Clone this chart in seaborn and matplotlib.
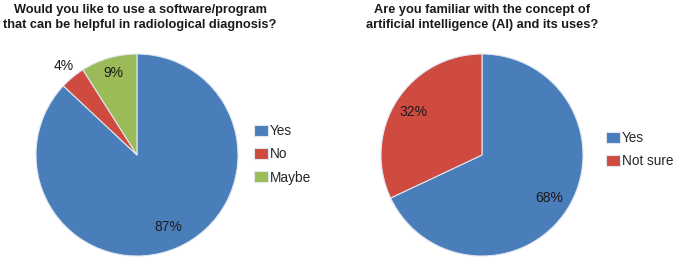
import numpy as np
import matplotlib
matplotlib.use("Agg")
import matplotlib.pyplot as plt
import seaborn as sns

# data
q1_title = "Would you like to use a software/program\nthat can be helpful in radiological diagnosis?"
q1_labels = ["Yes", "No", "Maybe"]
q1_values = [87, 4, 9]
q1_label_dist = [0.78, 1.14, 0.85]

q2_title = "Are you familiar with the concept of\nartificial intelligence (AI) and its uses?"
q2_labels = ["Yes", "Not sure"]
q2_values = [68, 32]
q2_label_dist = [0.79, 0.80]

sns.set_theme(style="white")
plt.rcParams["font.family"] = ["Liberation Sans", "DejaVu Sans"]

colors = sns.color_palette(["#4a7ebb", "#cf4a3f", "#9bbb59"])

W, H = 679, 264
fig = plt.figure(figsize=(W / 100, H / 100), dpi=100)


def draw_pie(cx, cy, r, values, labels, dists, title, title_x, leg_x, leg_y):
    ax = fig.add_axes([(cx - r) / W, (H - cy - r) / H, 2 * r / W, 2 * r / H])
    wedges, _, autotexts = ax.pie(
        values, colors=colors[:len(values)], startangle=90, counterclock=False,
        autopct="%d%%", radius=1.0,
        wedgeprops=dict(edgecolor="#dfe6ef", linewidth=0.8),
        textprops=dict(fontsize=10, color="#1a1a1a"),
    )
    ax.set_xlim(-1, 1)
    ax.set_ylim(-1, 1)
    # move each label along its wedge's mid angle
    for w, t, d in zip(wedges, autotexts, dists):
        ang = np.deg2rad((w.theta1 + w.theta2) / 2)
        t.set_position((d * np.cos(ang), d * np.sin(ang)))
    fig.text(title_x / W, 1 - 17.5 / H, title, ha="center", va="center",
             fontsize=9.2, fontweight="bold", color="#1a1a1a", linespacing=1.3)
    fig.legend(wedges, labels, loc="upper left",
               bbox_to_anchor=(leg_x / W, 1 - leg_y / H), frameon=False,
               fontsize=9.8, handlelength=1.0, handleheight=0.85,
               handletextpad=0.15, labelspacing=0.68, borderpad=0, borderaxespad=0)


draw_pie(137, 155, 101, q1_values, q1_labels, q1_label_dist, q1_title, 140, 254, 124)
draw_pie(482, 155, 101, q2_values, q2_labels, q2_label_dist, q2_title, 482, 606, 131)

fig.savefig("out.png", dpi=100)
